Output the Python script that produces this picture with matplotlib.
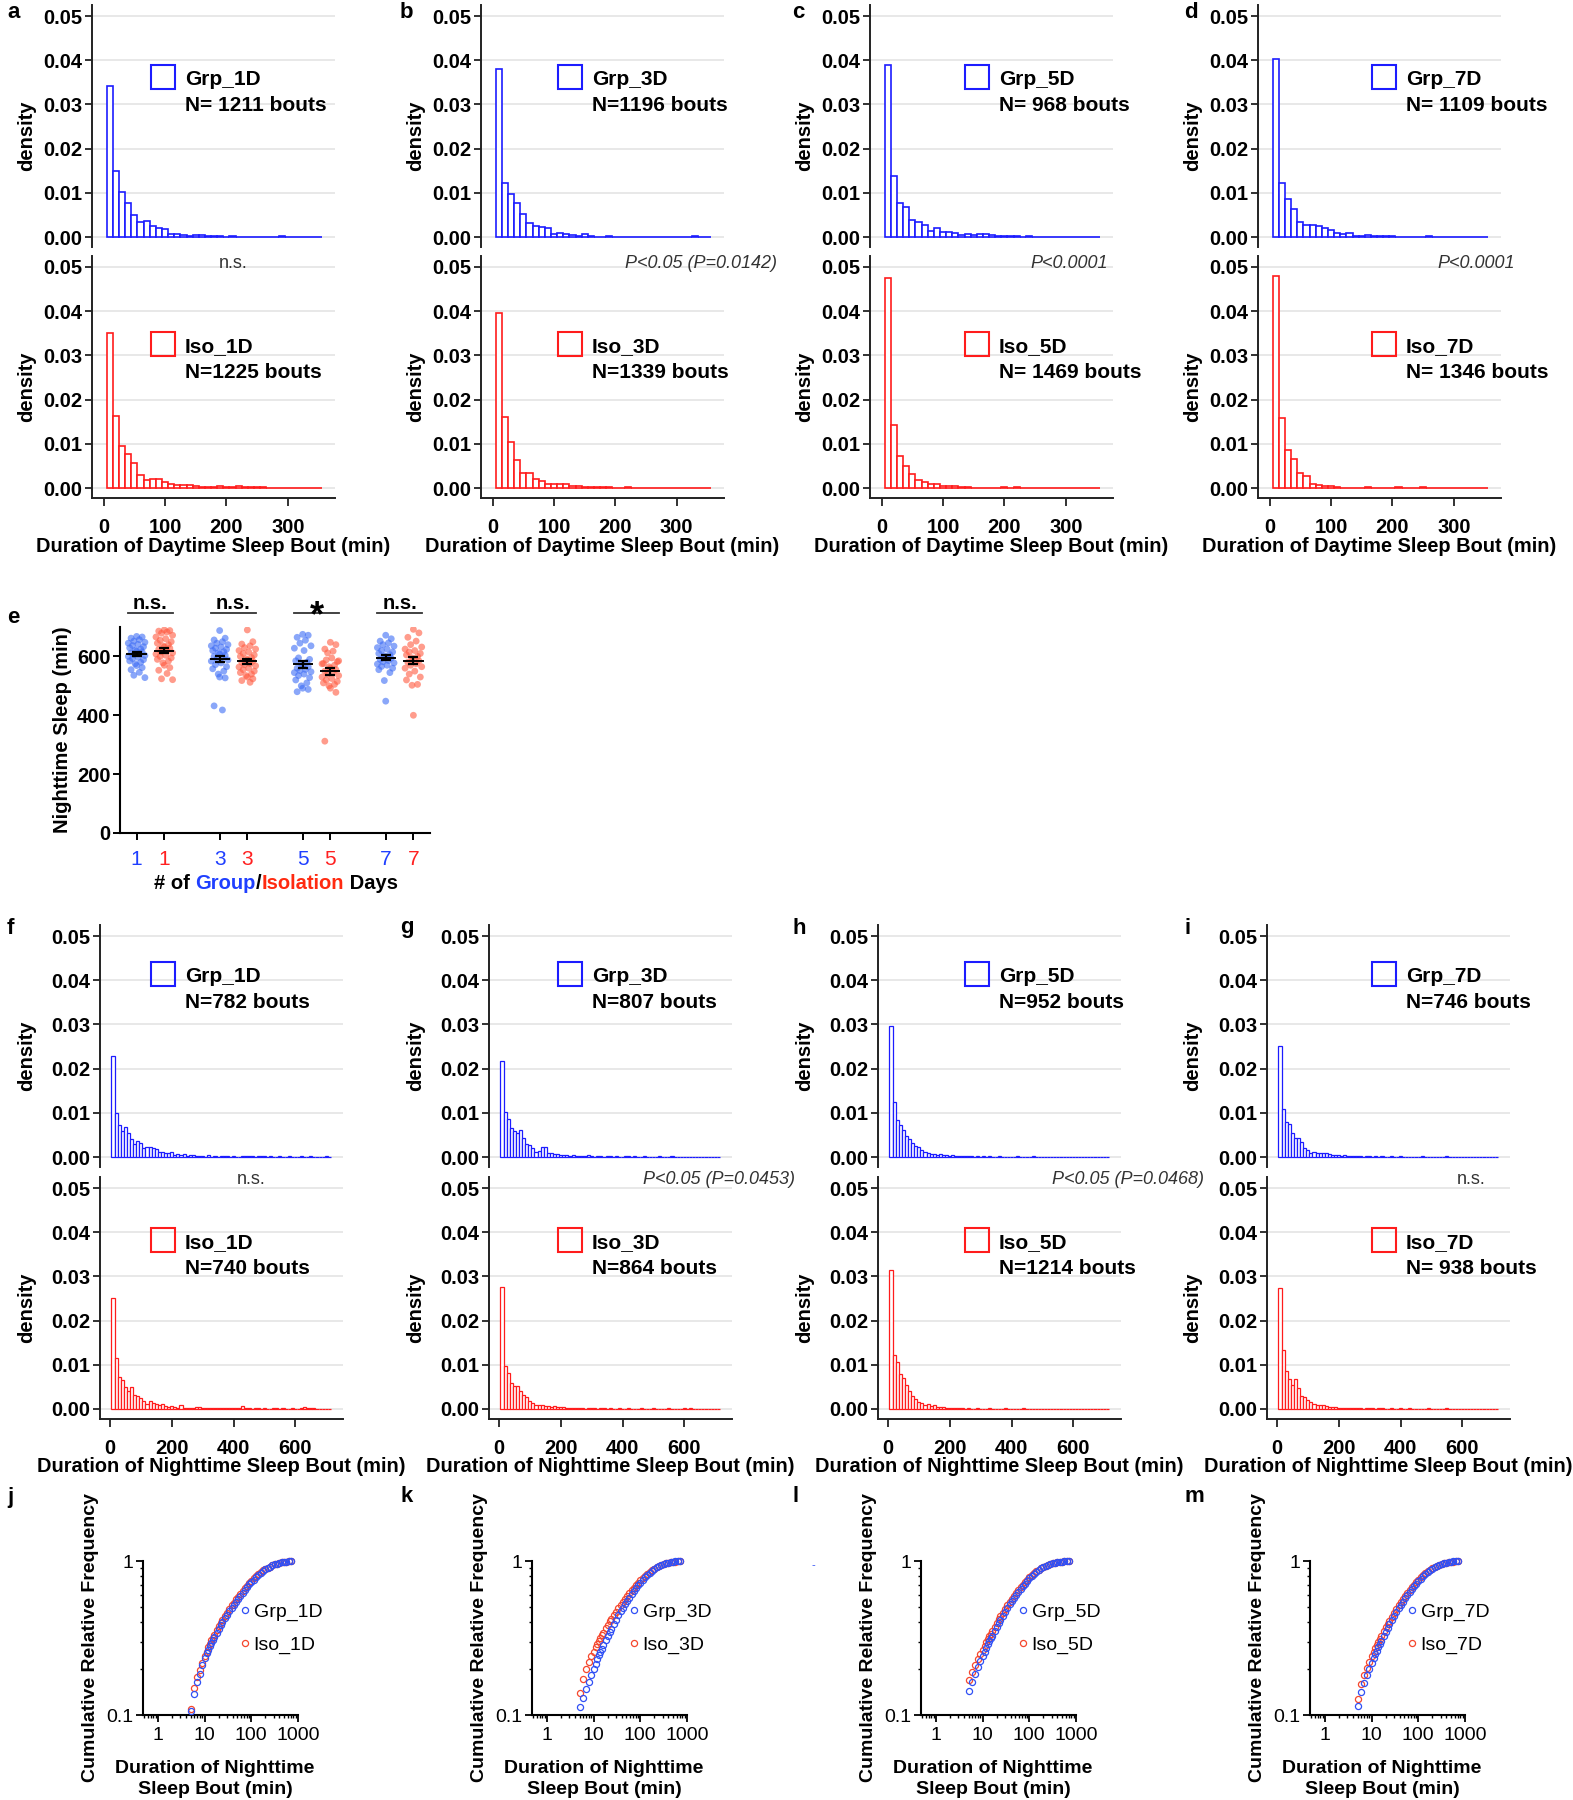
"""Sleep bout histograms, nighttime sleep dot plot and cumulative frequency panels."""

import matplotlib

matplotlib.use("Agg")
import matplotlib.pyplot as plt
import numpy as np
from matplotlib.lines import Line2D
from matplotlib.offsetbox import AnnotationBbox, HPacker, TextArea
from matplotlib.patches import Rectangle
from matplotlib.ticker import FuncFormatter, LogLocator, NullFormatter

plt.rcParams["font.family"] = ["Liberation Sans", "DejaVu Sans"]
plt.rcParams["font.weight"] = "bold"

# ---------------------------------------------------------------- data
DAYS = ["1D", "3D", "5D", "7D"]
DAY_EDGES = np.arange(5, 356, 10)      # 35 bins, minutes
NIGHT_EDGES = np.arange(5, 716, 10)    # 71 bins, minutes

DAY_GRP = [
    [0.0341, 0.0150, 0.0101, 0.0078, 0.0050, 0.0035, 0.0036, 0.0026, 0.0020, 0.0018,
     0.0007, 0.0006, 0.0005, 0.0003, 0.0004, 0.0004, 0.0003, 0.0002, 0.0002, 0.0001,
     0.0002, 0.0001, 0.0001, 0.0001, 0.0001, 0.0001, 0.0001, 0.0001, 0.0002, 0.0001,
     0.0001, 0.0000, 0.0001, 0.0000, 0.0000],
    [0.0381, 0.0122, 0.0097, 0.0078, 0.0053, 0.0032, 0.0026, 0.0022, 0.0021, 0.0006,
     0.0008, 0.0006, 0.0005, 0.0003, 0.0006, 0.0002, 0.0001, 0.0001, 0.0002, 0.0001,
     0.0001, 0.0001, 0.0001, 0.0000, 0.0000, 0.0000, 0.0000, 0.0001, 0.0001, 0.0001,
     0.0000, 0.0001, 0.0003, 0.0001, 0.0000],
    [0.0389, 0.0139, 0.0077, 0.0068, 0.0038, 0.0035, 0.0028, 0.0013, 0.0020, 0.0011,
     0.0011, 0.0009, 0.0005, 0.0006, 0.0004, 0.0007, 0.0007, 0.0004, 0.0003, 0.0003,
     0.0003, 0.0002, 0.0001, 0.0002, 0.0001, 0.0001, 0.0001, 0.0000, 0.0001, 0.0000,
     0.0000, 0.0000, 0.0000, 0.0000, 0.0000],
    [0.0403, 0.0122, 0.0085, 0.0063, 0.0035, 0.0028, 0.0027, 0.0025, 0.0021, 0.0015,
     0.0008, 0.0006, 0.0008, 0.0003, 0.0003, 0.0004, 0.0003, 0.0003, 0.0002, 0.0002,
     0.0001, 0.0001, 0.0001, 0.0001, 0.0001, 0.0002, 0.0001, 0.0001, 0.0001, 0.0000,
     0.0000, 0.0000, 0.0000, 0.0000, 0.0000],
]
DAY_ISO = [
    [0.0350, 0.0164, 0.0094, 0.0077, 0.0056, 0.0029, 0.0017, 0.0020, 0.0020, 0.0014,
     0.0009, 0.0007, 0.0007, 0.0006, 0.0004, 0.0003, 0.0003, 0.0003, 0.0005, 0.0002,
     0.0002, 0.0005, 0.0003, 0.0002, 0.0003, 0.0002, 0.0001, 0.0001, 0.0001, 0.0001,
     0.0000, 0.0001, 0.0000, 0.0000, 0.0000],
    [0.0396, 0.0160, 0.0103, 0.0063, 0.0035, 0.0035, 0.0021, 0.0015, 0.0010, 0.0008,
     0.0008, 0.0008, 0.0005, 0.0005, 0.0003, 0.0002, 0.0002, 0.0003, 0.0002, 0.0001,
     0.0001, 0.0002, 0.0001, 0.0001, 0.0000, 0.0001, 0.0000, 0.0000, 0.0001, 0.0000,
     0.0000, 0.0000, 0.0000, 0.0000, 0.0000],
    [0.0474, 0.0143, 0.0073, 0.0049, 0.0032, 0.0019, 0.0014, 0.0010, 0.0010, 0.0005,
     0.0005, 0.0004, 0.0003, 0.0003, 0.0001, 0.0001, 0.0001, 0.0001, 0.0001, 0.0002,
     0.0001, 0.0002, 0.0001, 0.0000, 0.0000, 0.0000, 0.0000, 0.0000, 0.0000, 0.0000,
     0.0000, 0.0000, 0.0000, 0.0000, 0.0000],
    [0.0480, 0.0158, 0.0085, 0.0065, 0.0035, 0.0027, 0.0010, 0.0006, 0.0004, 0.0004,
     0.0002, 0.0001, 0.0001, 0.0001, 0.0001, 0.0002, 0.0001, 0.0001, 0.0001, 0.0001,
     0.0002, 0.0001, 0.0001, 0.0001, 0.0002, 0.0001, 0.0000, 0.0000, 0.0000, 0.0000,
     0.0000, 0.0000, 0.0000, 0.0000, 0.0000],
]

NIGHT_GRP = [
    [0.0229, 0.0099, 0.0073, 0.0058, 0.0068, 0.0054, 0.0041, 0.0030, 0.0037, 0.0032,
     0.0020, 0.0022, 0.0022, 0.0020, 0.0017, 0.0012, 0.0011, 0.0008, 0.0008, 0.0011,
     0.0005, 0.0006, 0.0004, 0.0007, 0.0003, 0.0004, 0.0005, 0.0003, 0.0002, 0.0003,
     0.0001, 0.0004, 0.0001, 0.0002, 0.0001, 0.0003, 0.0002, 0.0002, 0.0001, 0.0002,
     0.0001, 0.0001, 0.0002, 0.0002, 0.0003, 0.0002, 0.0001, 0.0002, 0.0002, 0.0003,
     0.0001, 0.0002, 0.0001, 0.0001, 0.0002, 0.0001, 0.0001, 0.0002, 0.0001, 0.0001,
     0.0001, 0.0002, 0.0001, 0.0001, 0.0002, 0.0001, 0.0001, 0.0001, 0.0001, 0.0002,
     0.0001],
    [0.0218, 0.0102, 0.0086, 0.0065, 0.0059, 0.0054, 0.0060, 0.0043, 0.0030, 0.0027,
     0.0020, 0.0012, 0.0014, 0.0022, 0.0022, 0.0010, 0.0008, 0.0006, 0.0006, 0.0004,
     0.0005, 0.0004, 0.0003, 0.0004, 0.0003, 0.0002, 0.0003, 0.0002, 0.0005, 0.0002,
     0.0001, 0.0002, 0.0002, 0.0001, 0.0003, 0.0002, 0.0001, 0.0002, 0.0001, 0.0001,
     0.0002, 0.0003, 0.0001, 0.0002, 0.0001, 0.0001, 0.0002, 0.0001, 0.0001, 0.0001,
     0.0001, 0.0002, 0.0001, 0.0001, 0.0001, 0.0002, 0.0001, 0.0001, 0.0001, 0.0001,
     0.0001, 0.0001, 0.0001, 0.0001, 0.0001, 0.0001, 0.0001, 0.0001, 0.0001, 0.0001,
     0.0001],
    [0.0296, 0.0125, 0.0083, 0.0073, 0.0060, 0.0048, 0.0040, 0.0032, 0.0024, 0.0023,
     0.0016, 0.0012, 0.0008, 0.0006, 0.0007, 0.0005, 0.0006, 0.0004, 0.0005, 0.0003,
     0.0004, 0.0003, 0.0002, 0.0003, 0.0002, 0.0002, 0.0003, 0.0001, 0.0002, 0.0001,
     0.0002, 0.0001, 0.0002, 0.0001, 0.0001, 0.0002, 0.0001, 0.0001, 0.0001, 0.0001,
     0.0001, 0.0002, 0.0001, 0.0001, 0.0001, 0.0001, 0.0003, 0.0001, 0.0001, 0.0001,
     0.0001, 0.0001, 0.0001, 0.0001, 0.0000, 0.0001, 0.0001, 0.0000, 0.0001, 0.0000,
     0.0001, 0.0000, 0.0000, 0.0001, 0.0000, 0.0000, 0.0000, 0.0000, 0.0001, 0.0000,
     0.0000],
    [0.0252, 0.0109, 0.0079, 0.0075, 0.0054, 0.0044, 0.0043, 0.0035, 0.0020, 0.0016,
     0.0010, 0.0012, 0.0010, 0.0008, 0.0010, 0.0008, 0.0006, 0.0005, 0.0004, 0.0004,
     0.0003, 0.0004, 0.0002, 0.0003, 0.0002, 0.0003, 0.0002, 0.0001, 0.0002, 0.0002,
     0.0001, 0.0002, 0.0001, 0.0002, 0.0001, 0.0001, 0.0002, 0.0001, 0.0001, 0.0002,
     0.0001, 0.0001, 0.0001, 0.0001, 0.0001, 0.0001, 0.0002, 0.0001, 0.0001, 0.0001,
     0.0001, 0.0001, 0.0001, 0.0001, 0.0002, 0.0001, 0.0001, 0.0001, 0.0001, 0.0001,
     0.0001, 0.0001, 0.0001, 0.0001, 0.0001, 0.0001, 0.0001, 0.0000, 0.0001, 0.0000,
     0.0000],
]
NIGHT_ISO = [
    [0.0251, 0.0116, 0.0073, 0.0065, 0.0050, 0.0041, 0.0049, 0.0032, 0.0029, 0.0024,
     0.0019, 0.0011, 0.0017, 0.0014, 0.0011, 0.0008, 0.0011, 0.0007, 0.0005, 0.0007,
     0.0004, 0.0003, 0.0008, 0.0002, 0.0002, 0.0003, 0.0003, 0.0004, 0.0004, 0.0003,
     0.0002, 0.0003, 0.0002, 0.0003, 0.0002, 0.0002, 0.0003, 0.0002, 0.0003, 0.0002,
     0.0003, 0.0002, 0.0006, 0.0003, 0.0002, 0.0001, 0.0002, 0.0002, 0.0001, 0.0002,
     0.0001, 0.0001, 0.0002, 0.0002, 0.0001, 0.0002, 0.0001, 0.0001, 0.0002, 0.0001,
     0.0001, 0.0002, 0.0004, 0.0003, 0.0002, 0.0003, 0.0001, 0.0001, 0.0001, 0.0001,
     0.0001],
    [0.0275, 0.0097, 0.0081, 0.0059, 0.0053, 0.0053, 0.0040, 0.0032, 0.0027, 0.0019,
     0.0013, 0.0010, 0.0010, 0.0008, 0.0006, 0.0007, 0.0005, 0.0006, 0.0004, 0.0005,
     0.0004, 0.0003, 0.0003, 0.0002, 0.0003, 0.0002, 0.0002, 0.0001, 0.0002, 0.0003,
     0.0002, 0.0001, 0.0002, 0.0002, 0.0001, 0.0002, 0.0001, 0.0001, 0.0002, 0.0001,
     0.0001, 0.0002, 0.0001, 0.0001, 0.0001, 0.0002, 0.0001, 0.0001, 0.0001, 0.0002,
     0.0001, 0.0001, 0.0001, 0.0001, 0.0002, 0.0001, 0.0001, 0.0001, 0.0001, 0.0002,
     0.0001, 0.0002, 0.0001, 0.0001, 0.0001, 0.0001, 0.0001, 0.0001, 0.0001, 0.0001,
     0.0001],
    [0.0315, 0.0122, 0.0107, 0.0079, 0.0071, 0.0055, 0.0040, 0.0030, 0.0023, 0.0016,
     0.0013, 0.0010, 0.0012, 0.0006, 0.0008, 0.0005, 0.0004, 0.0004, 0.0003, 0.0003,
     0.0002, 0.0003, 0.0002, 0.0002, 0.0001, 0.0002, 0.0001, 0.0001, 0.0002, 0.0001,
     0.0001, 0.0001, 0.0002, 0.0001, 0.0001, 0.0001, 0.0001, 0.0002, 0.0001, 0.0001,
     0.0001, 0.0001, 0.0001, 0.0002, 0.0001, 0.0001, 0.0001, 0.0001, 0.0001, 0.0001,
     0.0001, 0.0001, 0.0001, 0.0000, 0.0001, 0.0000, 0.0001, 0.0000, 0.0000, 0.0000,
     0.0000, 0.0000, 0.0000, 0.0000, 0.0000, 0.0000, 0.0000, 0.0000, 0.0000, 0.0000,
     0.0000],
    [0.0273, 0.0134, 0.0087, 0.0067, 0.0055, 0.0069, 0.0047, 0.0030, 0.0028, 0.0020,
     0.0015, 0.0012, 0.0010, 0.0008, 0.0008, 0.0006, 0.0005, 0.0004, 0.0004, 0.0003,
     0.0003, 0.0002, 0.0003, 0.0002, 0.0002, 0.0003, 0.0002, 0.0001, 0.0002, 0.0002,
     0.0002, 0.0001, 0.0002, 0.0002, 0.0001, 0.0001, 0.0002, 0.0001, 0.0001, 0.0002,
     0.0001, 0.0001, 0.0002, 0.0001, 0.0001, 0.0001, 0.0001, 0.0001, 0.0002, 0.0001,
     0.0001, 0.0001, 0.0001, 0.0001, 0.0002, 0.0001, 0.0001, 0.0001, 0.0001, 0.0001,
     0.0001, 0.0001, 0.0001, 0.0001, 0.0001, 0.0001, 0.0001, 0.0001, 0.0001, 0.0001,
     0.0001],
]

DAY_GRP_N = ["N= 1211 bouts", "N=1196 bouts", "N= 968 bouts", "N= 1109 bouts"]
DAY_ISO_N = ["N=1225 bouts", "N=1339 bouts", "N= 1469 bouts", "N= 1346 bouts"]
NIGHT_GRP_N = ["N=782 bouts", "N=807 bouts", "N=952 bouts", "N=746 bouts"]
NIGHT_ISO_N = ["N=740 bouts", "N=864 bouts", "N=1214 bouts", "N= 938 bouts"]
DAY_STATS = ["n.s.", "P<0.05 (P=0.0142)", "P<0.0001", "P<0.0001"]
NIGHT_STATS = ["n.s.", "P<0.05 (P=0.0453)", "P<0.05 (P=0.0468)", "n.s."]

# nighttime sleep per fly (min), panel e
NIGHT_SLEEP = {
    "Grp_1D": [668, 666, 662, 657, 652, 648, 645, 641, 637, 633, 629, 625, 621, 618, 615, 612,
               609, 606, 603, 600, 597, 593, 589, 585, 580, 575, 569, 562, 555, 546, 536, 528],
    "Iso_1D": [690, 688, 686, 683, 679, 672, 666, 660, 655, 650, 645, 640, 636, 632, 628, 624,
               620, 616, 612, 608, 604, 600, 595, 590, 584, 578, 570, 562, 553, 542, 524, 521],
    "Grp_3D": [688, 662, 656, 650, 645, 640, 636, 632, 628, 624, 620, 616, 612, 608, 604, 600,
               596, 592, 588, 584, 578, 572, 565, 558, 550, 540, 530, 527, 432, 418],
    "Iso_3D": [690, 650, 642, 636, 630, 625, 620, 615, 610, 605, 600, 596, 592, 588, 584, 580,
               576, 572, 568, 564, 560, 555, 550, 545, 540, 535, 530, 524, 518, 512],
    "Grp_5D": [675, 672, 665, 655, 645, 636, 628, 620, 595, 590, 585, 580, 575, 570, 565, 560,
               556, 552, 548, 545, 540, 535, 528, 520, 510, 500, 492, 488, 480],
    "Iso_5D": [648, 640, 625, 618, 612, 585, 575, 595, 588, 582, 576, 570, 565, 560, 555, 550,
               545, 540, 535, 530, 525, 520, 515, 510, 505, 500, 492, 478, 312],
    "Grp_7D": [672, 660, 652, 646, 640, 635, 630, 625, 620, 615, 610, 606, 602, 598, 594, 590,
               586, 582, 578, 574, 570, 566, 560, 555, 545, 518, 448],
    "Iso_7D": [692, 680, 665, 652, 640, 632, 625, 620, 615, 610, 605, 600, 595, 590, 585, 580,
               575, 570, 565, 560, 550, 540, 530, 520, 505, 502, 400],
}
E_DAY_LABELS = ["1", "1", "3", "3", "5", "5", "7", "7"]
E_SIGNIF = ["n.s.", "n.s.", "*", "n.s."]

# cumulative relative frequency of nighttime bout durations, panels j-m
CDF_DURATION = [5, 6, 7, 8, 9, 10, 11, 12, 13, 14, 15, 16, 18, 20, 22, 24, 27, 30, 34, 38, 42,
                47, 52, 58, 65, 72, 80, 90, 100, 112, 125, 140, 160, 180, 200, 225, 250, 280,
                320, 360, 400, 450, 500, 560, 630, 700]
CDF_GRP = [
    [0.106, 0.137, 0.163, 0.185, 0.211, 0.233, 0.251, 0.266, 0.280, 0.294, 0.307, 0.320, 0.343,
     0.364, 0.383, 0.400, 0.424, 0.446, 0.473, 0.497, 0.519, 0.544, 0.568, 0.594, 0.622, 0.648,
     0.675, 0.705, 0.730, 0.758, 0.785, 0.810, 0.838, 0.862, 0.883, 0.903, 0.920, 0.935, 0.950,
     0.962, 0.971, 0.979, 0.985, 0.991, 0.996, 1.000],
    [0.113, 0.128, 0.148, 0.165, 0.183, 0.200, 0.215, 0.230, 0.244, 0.257, 0.270, 0.283, 0.305,
     0.326, 0.346, 0.364, 0.390, 0.413, 0.443, 0.470, 0.495, 0.523, 0.550, 0.578, 0.608, 0.636,
     0.665, 0.697, 0.725, 0.755, 0.783, 0.810, 0.840, 0.866, 0.888, 0.908, 0.925, 0.940, 0.955,
     0.966, 0.975, 0.982, 0.988, 0.993, 0.997, 1.000],
    [0.143, 0.165, 0.185, 0.205, 0.223, 0.240, 0.256, 0.272, 0.287, 0.301, 0.315, 0.328, 0.352,
     0.375, 0.396, 0.415, 0.442, 0.466, 0.495, 0.522, 0.546, 0.574, 0.600, 0.628, 0.658, 0.685,
     0.713, 0.743, 0.770, 0.797, 0.822, 0.847, 0.873, 0.894, 0.911, 0.927, 0.940, 0.952, 0.964,
     0.973, 0.980, 0.986, 0.990, 0.994, 0.998, 1.000],
    [0.115, 0.140, 0.162, 0.182, 0.200, 0.217, 0.233, 0.248, 0.262, 0.276, 0.289, 0.302, 0.326,
     0.348, 0.368, 0.387, 0.413, 0.437, 0.466, 0.493, 0.517, 0.545, 0.571, 0.599, 0.628, 0.655,
     0.683, 0.713, 0.740, 0.768, 0.795, 0.822, 0.850, 0.873, 0.893, 0.912, 0.928, 0.942, 0.956,
     0.967, 0.975, 0.982, 0.988, 0.993, 0.997, 1.000],
]
CDF_ISO = [
    [0.110, 0.149, 0.176, 0.196, 0.216, 0.240, 0.258, 0.275, 0.290, 0.305, 0.318, 0.332, 0.356,
     0.378, 0.398, 0.416, 0.440, 0.462, 0.490, 0.515, 0.537, 0.563, 0.587, 0.612, 0.640, 0.665,
     0.692, 0.720, 0.745, 0.772, 0.797, 0.822, 0.848, 0.870, 0.888, 0.906, 0.920, 0.935, 0.950,
     0.962, 0.971, 0.979, 0.985, 0.991, 0.996, 1.000],
    [0.139, 0.172, 0.198, 0.220, 0.240, 0.258, 0.275, 0.290, 0.304, 0.317, 0.330, 0.342, 0.365,
     0.386, 0.405, 0.422, 0.446, 0.468, 0.495, 0.520, 0.542, 0.568, 0.592, 0.617, 0.645, 0.670,
     0.697, 0.725, 0.750, 0.777, 0.802, 0.827, 0.853, 0.875, 0.893, 0.911, 0.926, 0.940, 0.954,
     0.965, 0.974, 0.981, 0.987, 0.992, 0.996, 1.000],
    [0.168, 0.190, 0.210, 0.230, 0.248, 0.265, 0.281, 0.296, 0.311, 0.325, 0.338, 0.351, 0.375,
     0.397, 0.418, 0.437, 0.463, 0.487, 0.516, 0.542, 0.566, 0.594, 0.619, 0.646, 0.675, 0.701,
     0.728, 0.757, 0.782, 0.808, 0.832, 0.856, 0.880, 0.900, 0.916, 0.931, 0.943, 0.955, 0.966,
     0.975, 0.981, 0.987, 0.991, 0.995, 0.998, 1.000],
    [0.127, 0.158, 0.182, 0.203, 0.222, 0.240, 0.256, 0.271, 0.285, 0.299, 0.312, 0.325, 0.349,
     0.371, 0.391, 0.410, 0.436, 0.460, 0.489, 0.515, 0.539, 0.566, 0.592, 0.619, 0.648, 0.674,
     0.700, 0.729, 0.755, 0.782, 0.807, 0.832, 0.858, 0.879, 0.897, 0.914, 0.929, 0.942, 0.955,
     0.966, 0.974, 0.981, 0.987, 0.992, 0.996, 1.000],
]

# ---------------------------------------------------------------- layout
W, H = 1573, 1800
HIST_BLUE = "#1c1cff"
HIST_RED = "#ff1c1c"
DOT_BLUE = "#3d6cf5"
DOT_RED = "#ff5a40"
CDF_BLUE = "#3050f5"
CDF_RED = "#f5472d"
DENS_YLIM = (-0.0023, 0.0525)
PX_PER_UNIT = 4420
COL_LETTER_X = [7, 400, 792, 1184]
DENSITY_LABEL_X = [27, 416, 805, 1193]
LEGEND_SQ_X = [151, 558, 965, 1372]

fig = plt.figure(figsize=(W / 100, H / 100), dpi=100)


def fig_rect(left, top, width, height):
    return [left / W, 1 - (top + height) / H, width / W, height / H]


def fig_xy(x, y):
    return x / W, 1 - y / H


def hist_axes(left, zero_y, heights, edges, color, xlim, xticks, with_xaxis, lw):
    top = zero_y - DENS_YLIM[1] * PX_PER_UNIT
    height = (DENS_YLIM[1] - DENS_YLIM[0]) * PX_PER_UNIT
    ax = fig.add_axes(fig_rect(left, top, 243, height))
    ax.bar(edges[:-1], heights, width=np.diff(edges), align="edge",
           facecolor="white", edgecolor=color, linewidth=lw, zorder=3)
    ax.set_xlim(xlim)
    ax.set_ylim(DENS_YLIM)
    ax.set_yticks([0.0, 0.01, 0.02, 0.03, 0.04, 0.05])
    ax.yaxis.set_major_formatter(FuncFormatter(lambda v, _: f"{v:.2f}"))
    ax.grid(axis="y", color="#e2e2e2", linewidth=1.1)
    ax.set_axisbelow(True)
    for side in ("top", "right"):
        ax.spines[side].set_visible(False)
    ax.spines["left"].set_linewidth(1.4)
    ax.spines["left"].set_color("#222222")
    ax.tick_params(axis="y", labelsize=14.5, width=1.3, length=5, pad=2, color="#222222")
    if with_xaxis:
        ax.spines["bottom"].set_linewidth(1.4)
        ax.spines["bottom"].set_color("#222222")
        ax.set_xticks(xticks)
        ax.tick_params(axis="x", labelsize=14.5, width=1.3, length=6, pad=8, color="#222222")
    else:
        ax.spines["bottom"].set_visible(False)
        ax.tick_params(axis="x", bottom=False, labelbottom=False)
    return ax


def legend_box(col, sq_top, color, name, n_text):
    x = LEGEND_SQ_X[col]
    fig.add_artist(Rectangle(fig_xy(x, sq_top + 24), 24 / W, 24 / H, transform=fig.transFigure,
                             fill=False, edgecolor=color, linewidth=1.5))
    fig.text(*fig_xy(x + 34, sq_top + 20), name, fontsize=15, va="baseline")
    fig.text(*fig_xy(x + 34, sq_top + 46), n_text, fontsize=15, va="baseline")


def stat_text(text, x, y, ha):
    if text == "n.s.":
        fig.text(*fig_xy(x, y), text, fontsize=13, fontweight="normal", ha=ha, va="center",
                 color="#333333")
    else:
        fig.text(*fig_xy(x, y), text, fontsize=13, fontweight="normal", style="italic",
                 ha=ha, va="center", color="#333333")


# ---------------------------------------------------------------- panels a-d, f-i
hist_rows = [
    # lefts, zero_y(top), zero_y(bottom), grp data, iso data, grp N, iso N, edges, xlim, xticks,
    # xlabel, legend tops, xlabel y, bar line width
    ([92, 481, 870, 1258], 237, 488, DAY_GRP, DAY_ISO, DAY_GRP_N, DAY_ISO_N, DAY_EDGES,
     (-19, 377), [0, 100, 200, 300], "Duration of Daytime Sleep Bout (min)", 65, 332, 547, 1.2),
    ([100, 489, 878, 1267], 1157, 1409, NIGHT_GRP, NIGHT_ISO, NIGHT_GRP_N, NIGHT_ISO_N,
     NIGHT_EDGES, (-32, 754), [0, 200, 400, 600], "Duration of Nighttime Sleep Bout (min)",
     962, 1228, 1467, 0.9),
]
for (lefts, z_top, z_bot, grp, iso, grp_n, iso_n, edges, xlim, xticks, xlabel,
     sq_top, sq_bot, xlabel_y, lw) in hist_rows:
    for col in range(4):
        left = lefts[col]
        hist_axes(left, z_top, grp[col], edges, HIST_BLUE, xlim, xticks, False, lw)
        hist_axes(left, z_bot, iso[col], edges, HIST_RED, xlim, xticks, True, lw)
        legend_box(col, sq_top, HIST_BLUE, f"Grp_{DAYS[col]}", grp_n[col])
        legend_box(col, sq_bot, HIST_RED, f"Iso_{DAYS[col]}", iso_n[col])
        for zero_y in (z_top, z_bot):
            center = zero_y - 0.025 * PX_PER_UNIT + 9
            fig.text(*fig_xy(DENSITY_LABEL_X[col], center), "density", rotation=90,
                     fontsize=14.5, ha="center", va="center")
        fig.text(*fig_xy(left + 121.5, xlabel_y), xlabel, fontsize=14.4, ha="center", va="center")

day_stat_pos = [(233, "center"), (777, "right"), (1108, "right"), (1515, "right")]
night_stat_pos = [(251, "center"), (795, "right"), (1204, "right"), (1471, "center")]
for col in range(4):
    stat_text(DAY_STATS[col], day_stat_pos[col][0], 263, day_stat_pos[col][1])
    stat_text(NIGHT_STATS[col], night_stat_pos[col][0], 1179, night_stat_pos[col][1])

# ---------------------------------------------------------------- panel e
ax_e = fig.add_axes(fig_rect(120, 627, 310, 206))
e_pos = [0, 1, 3, 4, 6, 7, 9, 10]
jitter = [0.0, 0.2, -0.2, 0.1, -0.1, 0.3, -0.3, 0.05, -0.15, 0.25, -0.25, 0.15, -0.05]
for i, (name, vals) in enumerate(NIGHT_SLEEP.items()):
    vals = np.array(vals, dtype=float)
    color = DOT_BLUE if name.startswith("Grp") else DOT_RED
    xs = e_pos[i] + np.array([jitter[k % len(jitter)] for k in range(len(vals))])
    ax_e.scatter(xs, vals, s=24, color=color, alpha=0.6, edgecolors="none", zorder=2)
    mean = vals.mean()
    sem = vals.std(ddof=1) / np.sqrt(len(vals))
    ax_e.errorbar(e_pos[i], mean, yerr=sem, color="black", capsize=3.5, elinewidth=1.6,
                  capthick=1.6, zorder=4)
    ax_e.plot([e_pos[i] - 0.33, e_pos[i] + 0.33], [mean, mean], color="black", lw=1.4, zorder=4)
ax_e.set_xlim(-0.6, 10.6)
ax_e.set_ylim(0, 700)
ax_e.set_yticks([0, 200, 400, 600])
ax_e.tick_params(axis="y", labelsize=14.5, width=1.4, length=5, pad=2)
ax_e.set_xticks(e_pos, labels=E_DAY_LABELS, fontweight="normal", fontsize=15)
ax_e.tick_params(axis="x", width=1.4, length=5, pad=7)
for k, lab in enumerate(ax_e.get_xticklabels()):
    lab.set_color("#1f3fff" if k % 2 == 0 else "#ff2020")
for side in ("top", "right"):
    ax_e.spines[side].set_visible(False)
for side in ("left", "bottom"):
    ax_e.spines[side].set_linewidth(1.5)
for k, mark in enumerate(E_SIGNIF):
    c = (e_pos[2 * k] + e_pos[2 * k + 1]) / 2
    ax_e.plot([c - 0.81, c + 0.81], [748, 748], color="#333333", lw=1.3, clip_on=False)
    if mark == "*":
        ax_e.text(c, 703, mark, fontsize=26, ha="center", va="baseline", clip_on=False)
    else:
        ax_e.text(c, 761, mark, fontsize=14.5, ha="center", va="baseline", clip_on=False)
fig.text(*fig_xy(62, 730), "Nighttime Sleep (min)", rotation=90, fontsize=14.5,
         ha="center", va="center")
parts = [("# of ", "black"), ("Group", "#1f3fff"), ("/", "black"),
         ("Isolation", "#ff2a10"), (" Days", "black")]
pack = HPacker(children=[TextArea(t, textprops=dict(color=c, fontsize=14.5, fontweight="bold"))
                         for t, c in parts], align="baseline", pad=0, sep=0)
fig.add_artist(AnnotationBbox(pack, fig_xy(276, 884), xycoords="figure fraction",
                              frameon=False, box_alignment=(0.5, 0.5)))

# ---------------------------------------------------------------- panels j-m
cdf_lefts = [143, 532, 921, 1310]
for col in range(4):
    left = cdf_lefts[col]
    ax = fig.add_axes(fig_rect(left, 1561, 155, 154))
    ax.set_xscale("log")
    ax.set_yscale("log")
    ax.plot(CDF_DURATION, CDF_ISO[col], "o", mfc="none", mec=CDF_RED, ms=4.4, mew=0.9,
            clip_on=False, zorder=2)
    ax.plot(CDF_DURATION, CDF_GRP[col], "o", mfc="none", mec=CDF_BLUE, ms=4.4, mew=0.9,
            clip_on=False, zorder=3)
    ax.set_xlim(0.48, 1000)
    ax.set_ylim(0.1, 1.0)
    ax.set_xticks([1, 10, 100, 1000], labels=["1", "10", "100", "1000"],
                  fontweight="normal", fontsize=14)
    ax.set_yticks([0.1, 1], labels=["0.1", "1"], fontweight="normal", fontsize=14)
    for axis in (ax.xaxis, ax.yaxis):
        axis.set_minor_locator(LogLocator(base=10, subs=np.arange(2, 10), numticks=20))
        axis.set_minor_formatter(NullFormatter())
    ax.tick_params(which="major", width=1.3, length=5, pad=2)
    ax.tick_params(axis="x", which="major", pad=4)
    ax.tick_params(which="minor", width=1.0, length=2.5)
    for side in ("top", "right"):
        ax.spines[side].set_visible(False)
    for side in ("left", "bottom"):
        ax.spines[side].set_linewidth(1.5)
    handles = [Line2D([], [], ls="none", marker="o", mfc="none", mec=CDF_BLUE, ms=4.4, mew=0.9),
               Line2D([], [], ls="none", marker="o", mfc="none", mec=CDF_RED, ms=4.4, mew=0.9)]
    ax.legend(handles, [f"Grp_{DAYS[col]}", f"Iso_{DAYS[col]}"], loc="center left",
              bbox_to_anchor=(0.62, 0.56), frameon=False, handlelength=0.6, handletextpad=0.15,
              borderpad=0, borderaxespad=0, labelspacing=0.75,
              prop={"size": 14, "weight": "normal"})
    fig.text(*fig_xy(left - 52, 1638), "Cumulative Relative Frequency", rotation=90,
             fontsize=14, ha="center", va="center")
    fig.text(*fig_xy(left + 72, 1779), "Duration of Nighttime\nSleep Bout (min)", fontsize=14,
             ha="center", va="center", linespacing=1.3)

# stray tick mark next to panel l in the source figure
fig.text(*fig_xy(813, 1565), "-", fontsize=8, fontweight="normal", color=CDF_BLUE,
         ha="center", va="center")

# ---------------------------------------------------------------- panel letters
for col in range(4):
    fig.text(*fig_xy(COL_LETTER_X[col], 13), "abcd"[col], fontsize=16, va="center")
    fig.text(*fig_xy(COL_LETTER_X[col], 928), "fghi"[col], fontsize=16, va="center")
    fig.text(*fig_xy(COL_LETTER_X[col], 1497), "jklm"[col], fontsize=16, va="center")
fig.text(*fig_xy(7, 617), "e", fontsize=16, va="center")

fig.savefig("out.png", dpi=100)
